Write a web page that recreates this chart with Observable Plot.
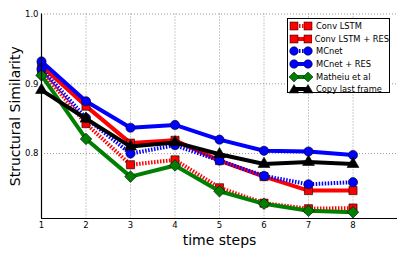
<!DOCTYPE html>
<html><head><meta charset="utf-8">
<script src="https://cdn.jsdelivr.net/npm/d3@7"></script>
<script src="https://cdn.jsdelivr.net/npm/@observablehq/plot@0.6"></script>
<style>
html,body{margin:0;padding:0;background:#fff;}
#wrap{position:relative;width:407px;height:255px;font-family:"DejaVu Sans",sans-serif;}
#legend{position:absolute;left:287px;top:18px;width:103px;height:75px;border:1px solid #000;background:#fff;box-sizing:border-box;padding-top:1px;}
.li{display:flex;align-items:center;height:12.6px;font-size:8.3px;color:#000;white-space:nowrap;}
.li svg{margin-left:1px;margin-right:3px;}
</style></head>
<body><div id="wrap"><div id="chart"></div><div id="legend"></div></div>
<script>
const steps = [1,2,3,4,5,6,7,8];
const seriesNames = ["Conv LSTM","Conv LSTM + RES","MCnet","MCnet + RES","Matheiu et al","Copy last frame"];
const convLSTM     = [0.918,0.843,0.784,0.791,0.751,0.729,0.721,0.722];
const convLSTMRes  = [0.926,0.868,0.815,0.819,0.790,0.767,0.747,0.747];
const mcnet        = [0.921,0.851,0.800,0.812,0.790,0.768,0.756,0.759];
const mcnetRes     = [0.932,0.875,0.837,0.841,0.820,0.804,0.803,0.798];
const matheiu      = [0.912,0.821,0.767,0.783,0.746,0.728,0.718,0.716];
const copyLast     = [0.891,0.850,0.810,0.816,0.799,0.785,0.788,0.785];
const yTicks = [0.8,0.9,1.0];

const styles = [
  {color:"#ff0000", dash:"1.5,1.5", symbol:"square"},
  {color:"#ff0000", dash:null, symbol:"square"},
  {color:"#0000ff", dash:"1.5,1.5", symbol:"circle"},
  {color:"#0000ff", dash:null, symbol:"circle"},
  {color:"#007f00", dash:null, symbol:"diamond2"},
  {color:"#000000", dash:null, symbol:"triangle"}
];
const allValues = [convLSTM, convLSTMRes, mcnet, mcnetRes, matheiu, copyLast];
const data = allValues.map((vals,i)=>steps.map((s,j)=>({series:seriesNames[i], x:s, y:vals[j]})));

const marks = [
  Plot.gridX(steps,{stroke:"#999",strokeOpacity:1,strokeDasharray:"1,2"}),
  Plot.gridY(yTicks,{stroke:"#999",strokeOpacity:1,strokeDasharray:"1,2"}),
];
data.forEach((d,i)=>{
  const st = styles[i];
  const opts = {x:"x",y:"y",stroke:st.color,strokeWidth:4,strokeLinejoin:"miter",strokeLinecap:"butt"};
  if (st.dash) opts.strokeDasharray = st.dash;
  marks.push(Plot.line(d,opts));
  marks.push(Plot.dot(d,{x:"x",y:"y",symbol:()=>st.symbol,fill:st.color,stroke:"#000",strokeWidth:0.6,r:st.symbol==="triangle"?4.4:(st.symbol==="diamond2"?5.2:4.6)}));
});
marks.push(
  Plot.ruleX([1],{stroke:"#000",strokeWidth:1.2}),
  Plot.ruleY([0.707],{stroke:"#000",strokeWidth:1.2}),
  Plot.axisX(steps,{tickSize:0,tickPadding:3,tickFormat:d=>String(d),fontSize:8.5,label:null}),
  Plot.axisY(yTicks,{tickSize:0,tickPadding:3,tickFormat:d=>d.toFixed(1),fontSize:8.5,label:null}),
  Plot.text(["time steps"],{frameAnchor:"bottom",dy:26,fontSize:14,fill:"#000"}),
  Plot.text(["Structural Similarity"],{frameAnchor:"left",textAnchor:"middle",dx:-26,rotate:-90,fontSize:14,fill:"#000"})
);

const chart = Plot.plot({
  width:407, height:255,
  marginLeft:41, marginRight:10, marginTop:13.5, marginBottom:37,
  style:{fontFamily:"DejaVu Sans, sans-serif", background:"#fff", overflow:"visible"},
  x:{type:"linear", domain:[1,9]},
  y:{type:"linear", domain:[0.707,1.0]},
  symbol:{type:"identity"},
  marks
});
document.getElementById("chart").appendChild(chart);

const leg = document.getElementById("legend");
seriesNames.forEach((n,i)=>{
  const st = styles[i];
  const row = document.createElement("div");
  row.className="li";
  const m = (cx)=>{
    if(st.symbol==="square") return `<rect x="${cx-4}" y="2" width="8" height="8" fill="${st.color}" stroke="#000" stroke-width="0.5"/>`;
    if(st.symbol==="circle") return `<circle cx="${cx}" cy="6" r="4.3" fill="${st.color}" stroke="#000" stroke-width="0.5"/>`;
    if(st.symbol==="diamond2") return `<polygon points="${cx},1 ${cx+5},6 ${cx},11 ${cx-5},6" fill="${st.color}" stroke="#000" stroke-width="0.5"/>`;
    return `<polygon points="${cx},1.5 ${cx+5},10 ${cx-5},10" fill="${st.color}" stroke="#000" stroke-width="0.5"/>`;
  };
  const dash = st.dash ? `stroke-dasharray="${st.dash}"` : "";
  row.innerHTML = `<svg width="24" height="12"><line x1="4" x2="20" y1="6" y2="6" stroke="${st.color}" stroke-width="4" ${dash}/>${m(5)}${m(19)}</svg><span>${n}</span>`;
  leg.appendChild(row);
});
</script></body></html>
